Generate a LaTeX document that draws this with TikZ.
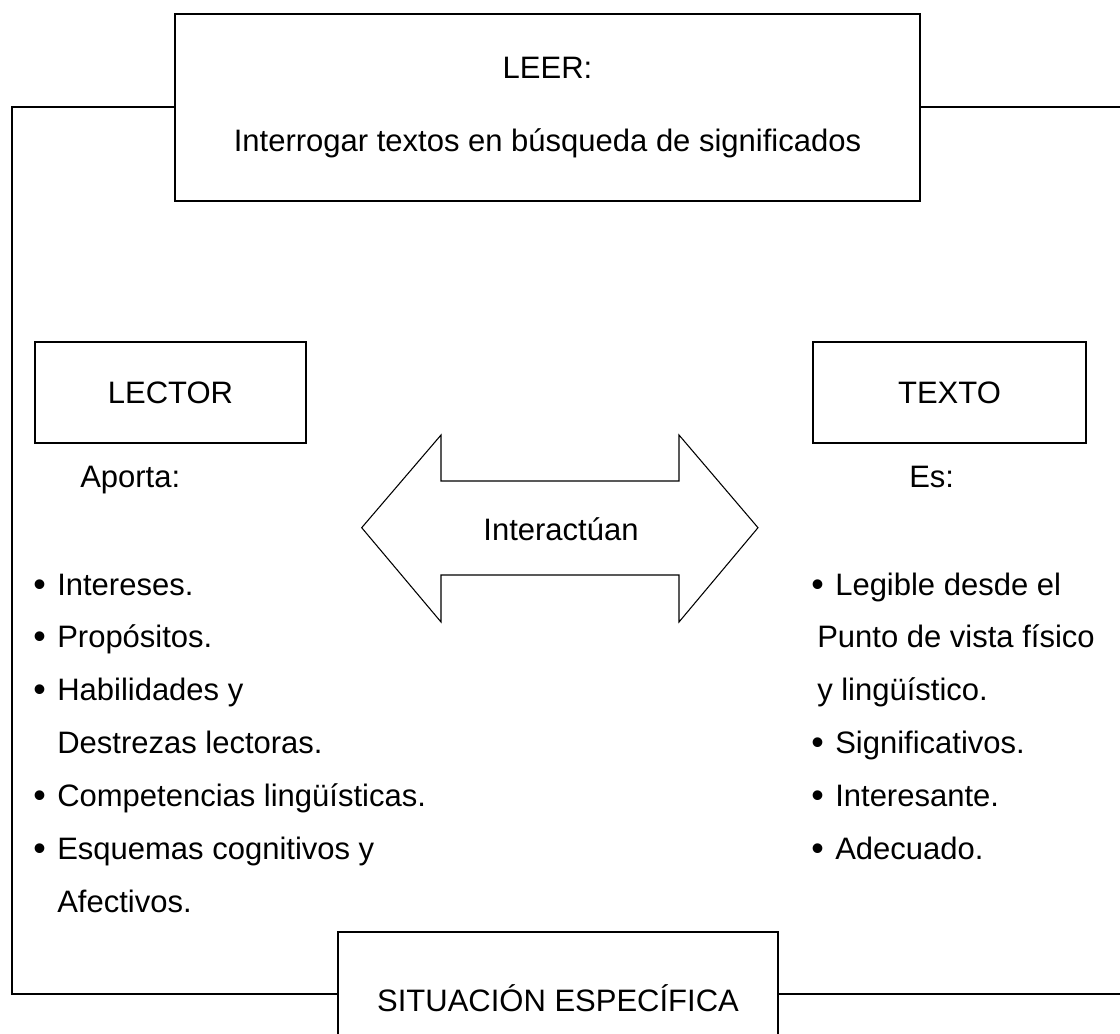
\documentclass[tikz,border=0pt]{standalone}
\usepackage{fontspec}
\setmainfont{Liberation Sans}
\newcommand{\bul}{\makebox[18pt][l]{\raisebox{-0.05em}{\scalebox{1.15}{\textbullet}}}}
\begin{document}
\begin{tikzpicture}[x=0.75pt,y=-0.75pt,
    font=\fontsize{23.25}{28}\selectfont,
    framebox/.style={draw, line width=1.5pt, inner sep=0pt},
    plainbox/.style={draw, line width=1pt, inner sep=0pt},
    frameline/.style={line width=1.5pt},
    item/.style={anchor=base west, inner sep=0pt}]
  \clip (0,0) rectangle (1120,1034);
  % upper box
  \node[framebox, minimum width=558.75pt, minimum height=140.25pt, align=center] (leer) at (547.5,107.5)
    {LEER:\\[27pt]Interrogar textos en búsqueda de significados};
  % bottom box
  \node[framebox, minimum width=330pt, minimum height=99pt] (situacion) at (558,998) {SITUACIÓN ESPECÍFICA};
  % outer frame
  \coordinate (topleft) at (12,107.5);
  \coordinate (botleft) at (12,994);
  \coordinate (topright) at (1130,107.5);
  \coordinate (botright) at (1130,994);
  \draw[frameline] (leer.west) -- (topleft) -- (botleft) -- (situacion.west |- botleft);
  \draw[frameline] (leer.east) -- (topright);
  \draw[frameline] (situacion.east |- botright) -- (botright);
  % reader and text
  \node[plainbox, minimum width=203.25pt, minimum height=75.75pt] (lector) at (170.5,392.5) {LECTOR};
  \node[plainbox, minimum width=204.75pt, minimum height=75.75pt] (texto) at (949.5,392.5) {TEXTO};
  \node[item] (aporta) at (80,487) {Aporta:};
  \node[item] (es) at (909,487) {Es:};
  % double arrow
  \draw[line width=0.8pt] (361.7,527.7) -- (441,435) -- (441,481) -- (679,481) -- (679,435)
    -- (758,527.7) -- (679,622) -- (679,575) -- (441,575) -- (441,622) -- cycle;
  \node[anchor=base, inner sep=0pt] (interactuan) at (561,540.7) {Interactúan};
  % what the reader brings
  \node[item] (l1) at (33,595) {\bul Intereses.};
  \node[item] (l2) at (33,647) {\bul Propósitos.};
  \node[item] (l3) at (33,700) {\bul Habilidades y};
  \node[item] (l4) at (57,753) {Destrezas lectoras.};
  \node[item] (l5) at (33,806) {\bul Competencias lingüísticas.};
  \node[item] (l6) at (33,859) {\bul Esquemas cognitivos y};
  \node[item] (l7) at (57,912) {Afectivos.};
  % what the text is
  \node[item] (r1) at (811,595) {\bul Legible desde el};
  \node[item] (r2) at (817,647) {Punto de vista físico};
  \node[item] (r3) at (817,700) {y lingüístico.};
  \node[item] (r4) at (811,753) {\bul Significativos.};
  \node[item] (r5) at (811,806) {\bul Interesante.};
  \node[item] (r6) at (811,859) {\bul Adecuado.};
\end{tikzpicture}
\end{document}
